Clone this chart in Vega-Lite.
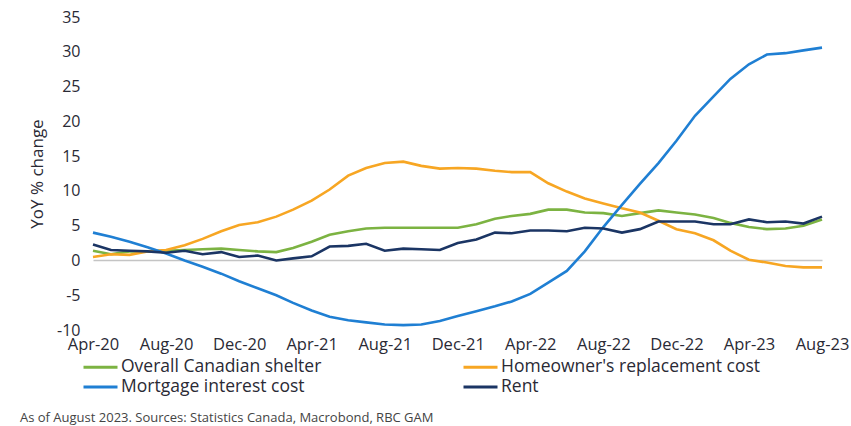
{
  "$schema": "https://vega.github.io/schema/vega-lite/v6.json",
  "width": 729,
  "height": 313,
  "autosize": "none",
  "padding": {"left": 93, "top": 17, "right": 29, "bottom": 96},
  "background": "white",
  "config": {"view": {"stroke": null}, "font": "Open Sans"},
  "title": {
    "text": "As of August 2023. Sources: Statistics Canada, Macrobond, RBC GAM",
    "orient": "bottom",
    "anchor": "start",
    "frame": "group",
    "fontSize": 13,
    "fontWeight": "normal",
    "color": "#444444",
    "dx": -73,
    "offset": 16
  },
  "data": {
    "values": [
      {"date": "2020-04-01", "shelter": 1.4, "homeowner": 0.5, "mortgage": 4.0, "rent": 2.3},
      {"date": "2020-05-01", "shelter": 0.9, "homeowner": 0.9, "mortgage": 3.4, "rent": 1.5},
      {"date": "2020-06-01", "shelter": 1.3, "homeowner": 0.8, "mortgage": 2.7, "rent": 1.4},
      {"date": "2020-07-01", "shelter": 1.3, "homeowner": 1.3, "mortgage": 1.9, "rent": 1.3},
      {"date": "2020-08-01", "shelter": 1.4, "homeowner": 1.5, "mortgage": 1.0, "rent": 1.1},
      {"date": "2020-09-01", "shelter": 1.5, "homeowner": 2.2, "mortgage": 0.0, "rent": 1.4},
      {"date": "2020-10-01", "shelter": 1.6, "homeowner": 3.1, "mortgage": -0.9, "rent": 0.9},
      {"date": "2020-11-01", "shelter": 1.7, "homeowner": 4.2, "mortgage": -1.9, "rent": 1.2},
      {"date": "2020-12-01", "shelter": 1.5, "homeowner": 5.1, "mortgage": -3.0, "rent": 0.5},
      {"date": "2021-01-01", "shelter": 1.3, "homeowner": 5.5, "mortgage": -4.0, "rent": 0.7},
      {"date": "2021-02-01", "shelter": 1.2, "homeowner": 6.3, "mortgage": -5.0, "rent": 0.0},
      {"date": "2021-03-01", "shelter": 1.8, "homeowner": 7.3, "mortgage": -6.1, "rent": 0.3},
      {"date": "2021-04-01", "shelter": 2.7, "homeowner": 8.6, "mortgage": -7.2, "rent": 0.6},
      {"date": "2021-05-01", "shelter": 3.7, "homeowner": 10.2, "mortgage": -8.1, "rent": 2.0},
      {"date": "2021-06-01", "shelter": 4.2, "homeowner": 12.2, "mortgage": -8.6, "rent": 2.1},
      {"date": "2021-07-01", "shelter": 4.6, "homeowner": 13.3, "mortgage": -8.9, "rent": 2.4},
      {"date": "2021-08-01", "shelter": 4.7, "homeowner": 14.0, "mortgage": -9.2, "rent": 1.4},
      {"date": "2021-09-01", "shelter": 4.7, "homeowner": 14.2, "mortgage": -9.3, "rent": 1.7},
      {"date": "2021-10-01", "shelter": 4.7, "homeowner": 13.6, "mortgage": -9.2, "rent": 1.6},
      {"date": "2021-11-01", "shelter": 4.7, "homeowner": 13.2, "mortgage": -8.7, "rent": 1.5},
      {"date": "2021-12-01", "shelter": 4.7, "homeowner": 13.3, "mortgage": -8.0, "rent": 2.5},
      {"date": "2022-01-01", "shelter": 5.2, "homeowner": 13.2, "mortgage": -7.3, "rent": 3.0},
      {"date": "2022-02-01", "shelter": 6.0, "homeowner": 12.9, "mortgage": -6.6, "rent": 4.0},
      {"date": "2022-03-01", "shelter": 6.4, "homeowner": 12.7, "mortgage": -5.9, "rent": 3.9},
      {"date": "2022-04-01", "shelter": 6.7, "homeowner": 12.7, "mortgage": -4.8, "rent": 4.3},
      {"date": "2022-05-01", "shelter": 7.3, "homeowner": 11.1, "mortgage": -3.2, "rent": 4.3},
      {"date": "2022-06-01", "shelter": 7.3, "homeowner": 9.9, "mortgage": -1.5, "rent": 4.2},
      {"date": "2022-07-01", "shelter": 6.9, "homeowner": 8.9, "mortgage": 1.3, "rent": 4.7},
      {"date": "2022-08-01", "shelter": 6.8, "homeowner": 8.2, "mortgage": 4.8, "rent": 4.6},
      {"date": "2022-09-01", "shelter": 6.4, "homeowner": 7.5, "mortgage": 8.0, "rent": 4.0},
      {"date": "2022-10-01", "shelter": 6.8, "homeowner": 6.9, "mortgage": 11.0, "rent": 4.5},
      {"date": "2022-11-01", "shelter": 7.2, "homeowner": 5.7, "mortgage": 14.0, "rent": 5.6},
      {"date": "2022-12-01", "shelter": 6.9, "homeowner": 4.5, "mortgage": 17.2, "rent": 5.6},
      {"date": "2023-01-01", "shelter": 6.6, "homeowner": 3.9, "mortgage": 20.8, "rent": 5.6},
      {"date": "2023-02-01", "shelter": 6.1, "homeowner": 2.9, "mortgage": 23.6, "rent": 5.2},
      {"date": "2023-03-01", "shelter": 5.4, "homeowner": 1.4, "mortgage": 26.1, "rent": 5.2},
      {"date": "2023-04-01", "shelter": 4.8, "homeowner": 0.1, "mortgage": 28.2, "rent": 5.9},
      {"date": "2023-05-01", "shelter": 4.5, "homeowner": -0.3, "mortgage": 29.6, "rent": 5.5},
      {"date": "2023-06-01", "shelter": 4.6, "homeowner": -0.8, "mortgage": 29.8, "rent": 5.6},
      {"date": "2023-07-01", "shelter": 5.0, "homeowner": -1.0, "mortgage": 30.2, "rent": 5.3},
      {"date": "2023-08-01", "shelter": 5.9, "homeowner": -1.0, "mortgage": 30.6, "rent": 6.3}
    ]
  },
  "transform": [
    {"fold": ["shelter", "homeowner", "mortgage", "rent"], "as": ["series", "value"]}
  ],
  "mark": {"type": "line", "strokeWidth": 2.6, "interpolate": "linear"},
  "encoding": {
    "x": {
      "field": "date",
      "type": "temporal",
      "timeUnit": "utcyearmonth",
      "scale": {"nice": false},
      "axis": {
        "title": null,
        "format": "%b-%y",
        "values": [
          {"year": 2020, "month": 4, "date": 1, "utc": true},
          {"year": 2020, "month": 8, "date": 1, "utc": true},
          {"year": 2020, "month": 12, "date": 1, "utc": true},
          {"year": 2021, "month": 4, "date": 1, "utc": true},
          {"year": 2021, "month": 8, "date": 1, "utc": true},
          {"year": 2021, "month": 12, "date": 1, "utc": true},
          {"year": 2022, "month": 4, "date": 1, "utc": true},
          {"year": 2022, "month": 8, "date": 1, "utc": true},
          {"year": 2022, "month": 12, "date": 1, "utc": true},
          {"year": 2023, "month": 4, "date": 1, "utc": true},
          {"year": 2023, "month": 8, "date": 1, "utc": true}
        ],
        "domain": false,
        "ticks": false,
        "grid": false,
        "labelFontSize": 16.5,
        "labelColor": "#2a2a35",
        "labelPadding": 6,
        "labelFlush": false,
        "labelOverlap": false
      }
    },
    "y": {
      "field": "value",
      "type": "quantitative",
      "scale": {"domain": [-10, 35], "nice": false, "zero": false},
      "axis": {
        "title": "YoY % change",
        "titleFontSize": 17,
        "titleFontWeight": "normal",
        "titleColor": "#2a2a35",
        "titlePadding": 10,
        "values": [-10, -5, 0, 5, 10, 15, 20, 25, 30, 35],
        "labelExpr": "'' + datum.value",
        "labelOverlap": false,
        "labelFlush": false,
        "domain": false,
        "ticks": false,
        "grid": true,
        "gridWidth": 1.5,
        "gridColor": {"condition": {"test": "datum.value === 0", "value": "#c4c4c4"}, "value": "transparent"},
        "labelFontSize": 16,
        "labelColor": "#2a2a35",
        "labelPadding": 13
      }
    },
    "color": {
      "field": "series",
      "type": "nominal",
      "scale": {
        "domain": ["shelter", "homeowner", "mortgage", "rent"],
        "range": ["#7cb342", "#f7a623", "#1f7fd3", "#1b3564"]
      },
      "legend": {
        "title": null,
        "orient": "none",
        "legendX": -11,
        "legendY": 342,
        "direction": "horizontal",
        "columns": 2,
        "columnPadding": 140,
        "rowPadding": 2,
        "clipHeight": 16,
        "symbolType": "stroke",
        "symbolSize": 1156,
        "symbolStrokeWidth": 3,
        "labelFontSize": 17.5,
        "labelColor": "#2a2a35",
        "labelOffset": 2,
        "labelLimit": 400,
        "labelExpr": "{'shelter': 'Overall Canadian shelter', 'homeowner': \"Homeowner's replacement cost\", 'mortgage': 'Mortgage interest cost', 'rent': 'Rent'}[datum.value]"
      }
    }
  }
}
